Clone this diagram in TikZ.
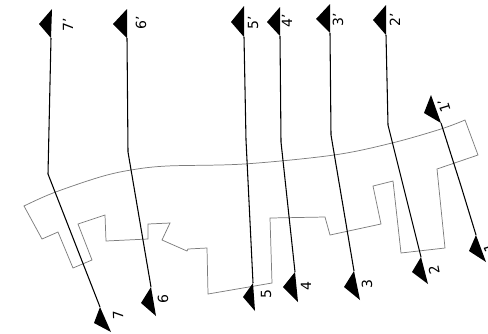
\documentclass[tikz,border=0pt]{standalone}
\usepackage{fontspec}
\setmainfont{DejaVu Sans}
\definecolor{wall1}{RGB}{125, 125, 125}
\tikzset{
  wall/.style={draw=wall1, line width=.55pt, line join=miter},
  cutline/.style={draw=black, line width=.8pt},
  cuthead/.style={fill=black},
  cutlabel/.style={font=\fontsize{10.5}{10.5}\selectfont, inner sep=0pt}
}

\begin{document}
\begin{tikzpicture}[x=.75pt, y=-.75pt]
  \useasboundingbox (0,0) rectangle (488,333);

  % outline of the building
  \draw[wall] plot[smooth, tension=.55] coordinates {(24,206) (53,193) (100,177) (131,170) (167,166) (244,164) (334,155) (392,143) (441,129) (465,120)}
    -- (478,155) -- (437,169) -- (445,248) -- (401,253) -- (393,181) -- (373,186)
    -- (381,224) -- (330,235) -- (325,217) -- (270,218) -- (272,283) -- (208,294)
    -- (207,248) -- (188,249) -- (187,251) -- (162,240) -- (170,223) -- (148,224) -- (148,239)
    -- (106,241) -- (105,215) -- (78,224) -- (92,260) -- (73,268) -- (58,232)
    -- (42,239) -- cycle;

  % section marks, top end
  \coordinate (t7) at (51,38);
  \coordinate (t6) at (127,38);
  \coordinate (t5) at (244,37);
  \coordinate (t4) at (280,36);
  \coordinate (t3) at (330,33);
  \coordinate (t2) at (386,35);
  \coordinate (t1) at (441,123);
  % knees
  \coordinate (k7) at (48,174);
  \coordinate (k6) at (128,152);
  \coordinate (k5) at (246,140);
  \coordinate (k4) at (281,142);
  \coordinate (k3) at (331,135);
  \coordinate (k2) at (388,125);
  \coordinate (k1) at (461,186);
  % bottom end
  \coordinate (b7) at (100,307);
  \coordinate (b6) at (151,287);
  \coordinate (b5) at (253,283);
  \coordinate (b4) at (295,272);
  \coordinate (b3) at (354,271);
  \coordinate (b2) at (421,257);
  \coordinate (b1) at (476,235);

  \foreach \n in {1,...,7}
    \draw[cutline] (t\n) -- (k\n) -- (b\n);

  \foreach \n/\ax/\ay/\bx/\by in {7/52/9/39/24, 6/127/9/113/24, 5/244/6/231/22,
      4/280/7/267/22, 3/330/4/316/19, 2/386/5/373/20, 1/431/95/424/113}
    \fill[cuthead] (\ax,\ay) -- (\bx,\by) -- (t\n) -- cycle;
  \foreach \n/\ax/\ay/\bx/\by in {7/94/323/111/332, 6/141/303/156/316, 5/243/297/255/311,
      4/283/287/298/302, 3/344/287/360/300, 2/412/272/428/284, 1/469/251/486/262}
    \fill[cuthead] (b\n) -- (\ax,\ay) -- (\bx,\by) -- cycle;

  % labels
  \node[cutlabel, rotate=90] (l7) at (68,25) {7'};
  \node[cutlabel, rotate=90] (l6) at (141,23) {6'};
  \node[cutlabel, rotate=90] (l5) at (253,23) {5'};
  \node[cutlabel, rotate=90] (l4) at (287,21) {4'};
  \node[cutlabel, rotate=90] (l3) at (338,20) {3'};
  \node[cutlabel, rotate=90] (l2) at (395,20) {2'};
  \node[cutlabel, rotate=107] (l1) at (444,106) {1'};
  \node[cutlabel, rotate=92] (m7) at (118,315) {7};
  \node[cutlabel, rotate=90] (m6) at (163,299) {6};
  \node[cutlabel, rotate=90] (m5) at (266,294) {5};
  \node[cutlabel, rotate=90] (m4) at (306,286) {4};
  \node[cutlabel, rotate=90] (m3) at (367,284) {3};
  \node[cutlabel, rotate=100] (m2) at (434,270) {2};
  \node[cutlabel, rotate=107] (m1) at (489,248) {1};
\end{tikzpicture}
\end{document}
